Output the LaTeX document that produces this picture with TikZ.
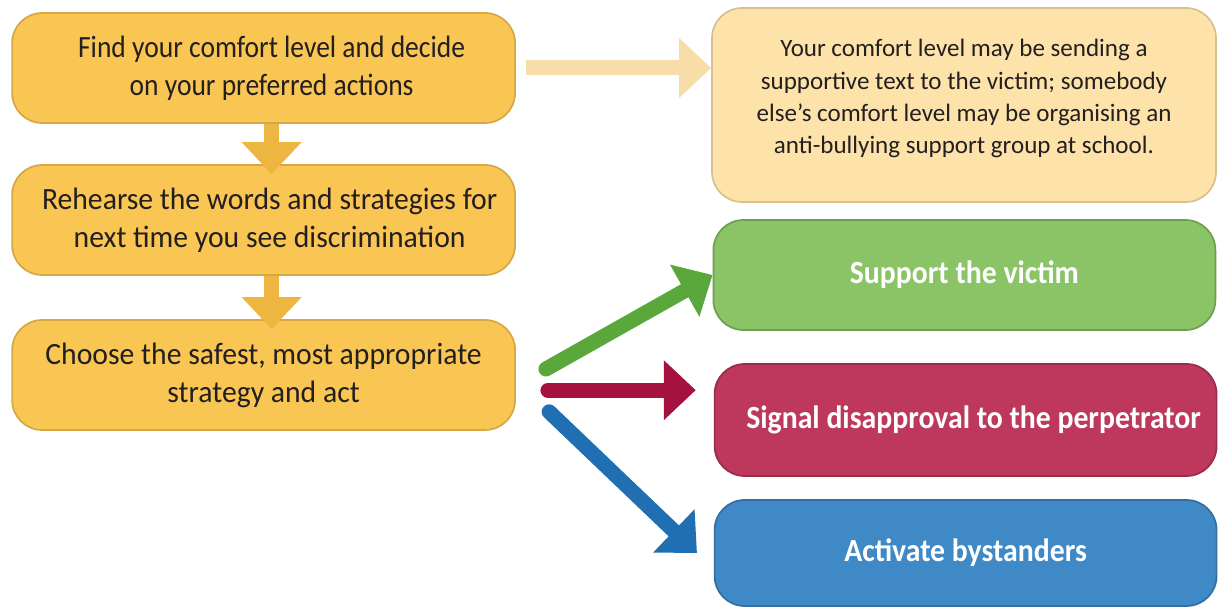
\documentclass[tikz,border=0pt]{standalone}
\usepackage{fontspec}
\setmainfont{Carlito}
\newfontfamily\narrowfont[FakeStretch=0.96]{Carlito}
\newfontfamily\tightfont[FakeStretch=0.89]{Carlito}
\newfontfamily\boldnarrowfont[FakeStretch=0.92]{Carlito}
\usepackage{xcolor}
\usepackage{tikz}
\usetikzlibrary{arrows.meta}

\definecolor{stepgold}{HTML}{F9C553}
\definecolor{notepeach}{HTML}{FDE2AA}
\definecolor{actgreen}{HTML}{8BC466}
\definecolor{actred}{HTML}{BD385C}
\definecolor{actblue}{HTML}{3F89C6}
\definecolor{arrgold}{HTML}{EDB640}
\definecolor{arrpeach}{HTML}{F8DDA8}
\definecolor{arrgreen}{HTML}{5AA83C}
\definecolor{arrred}{HTML}{A5123F}
\definecolor{arrblue}{HTML}{1F6FB2}
\definecolor{inktext}{HTML}{231F20}

\begin{document}
\begin{tikzpicture}[
		box/.style={rounded corners=0.75cm, inner sep=0pt, align=center, line width=1.2pt},
		stepbox/.style={box, fill=stepgold, draw=stepgold!85!black, minimum width=12.575cm, minimum height=2.75cm, text=inktext, font=\narrowfont\fontsize{22}{27}\selectfont},
		notebox/.style={box, fill=notepeach, draw=notepeach!85!black, minimum width=12.6cm, minimum height=4.85cm, text=inktext, font=\fontsize{17.8}{23}\selectfont},
		actbox/.style={box, minimum width=12.55cm, minimum height=2.75cm, text=white, font=\boldnarrowfont\bfseries\fontsize{23}{28}\selectfont},
		fat/.style={line width=0.375cm, -{Triangle[width=1.45cm,length=0.8cm]}},
	]
	\useasboundingbox (0,0) rectangle (30.45,15.15);
	% left column
	\node[stepbox, font=\tightfont\fontsize{22}{27}\selectfont] (find) at (6.59,13.45) {\hspace*{0.4cm}Find your comfort level and decide\\\hspace*{0.4cm}on your preferred actions};
	\node[stepbox] (rehearse) at (6.59,9.65) {\hspace*{0.3cm}Rehearse the words and strategies for\\\hspace*{0.3cm}next time you see discrimination};
	\node[stepbox] (choose) at (6.59,5.775) {Choose the safest, most appropriate\\strategy and act};
	% right column
	\node[notebox] (comfort) at (24.1,12.525) {\begin{tabular}{@{}c@{}}Your comfort level may be sending a\\supportive text to the victim; somebody\\else’s comfort level may be organising an\\anti-bullying support group at school.\\[0.3cm]\end{tabular}};
	\node[actbox, fill=actgreen, draw=actgreen!80!black] (support) at (24.11,8.275) {Support the victim};
	\node[actbox, fill=actred, draw=actred!80!black, minimum height=2.8cm] (signal) at (24.14,4.65) {\hspace*{0.4cm}Signal disapproval to the perpetrator};
	\node[actbox, fill=actblue, draw=actblue!80!black, minimum height=2.65cm] (activate) at (24.14,1.325) {Activate bystanders};
	% arrows
	\draw[fat, arrpeach, shorten <=0.25cm] (find.east) -- (find.east -| comfort.west);
	\draw[fat, arrgold] ([xshift=0.2cm]find.south) -- ([xshift=0.2cm,yshift=-0.25cm]rehearse.north);
	\draw[fat, arrgold] ([xshift=0.2cm]rehearse.south) -- ([xshift=0.2cm,yshift=-0.25cm]choose.north);
	\coordinate (greenstart) at ([shift={(0.75,0.15)}]choose.east);
	\coordinate (redstart) at ([shift={(0.8,-0.38)}]choose.east);
	\coordinate (bluestart) at ([shift={(0.83,-0.92)}]choose.east);
	\draw[fat, arrgreen, line cap=round] (greenstart) -- (support.west);
	\draw[fat, arrred, line cap=round, shorten >=0.45cm] (redstart) -- (redstart -| signal.west);
	\draw[fat, arrblue, line cap=round] (bluestart) -- ([xshift=-0.42cm]activate.west);
\end{tikzpicture}
\end{document}
